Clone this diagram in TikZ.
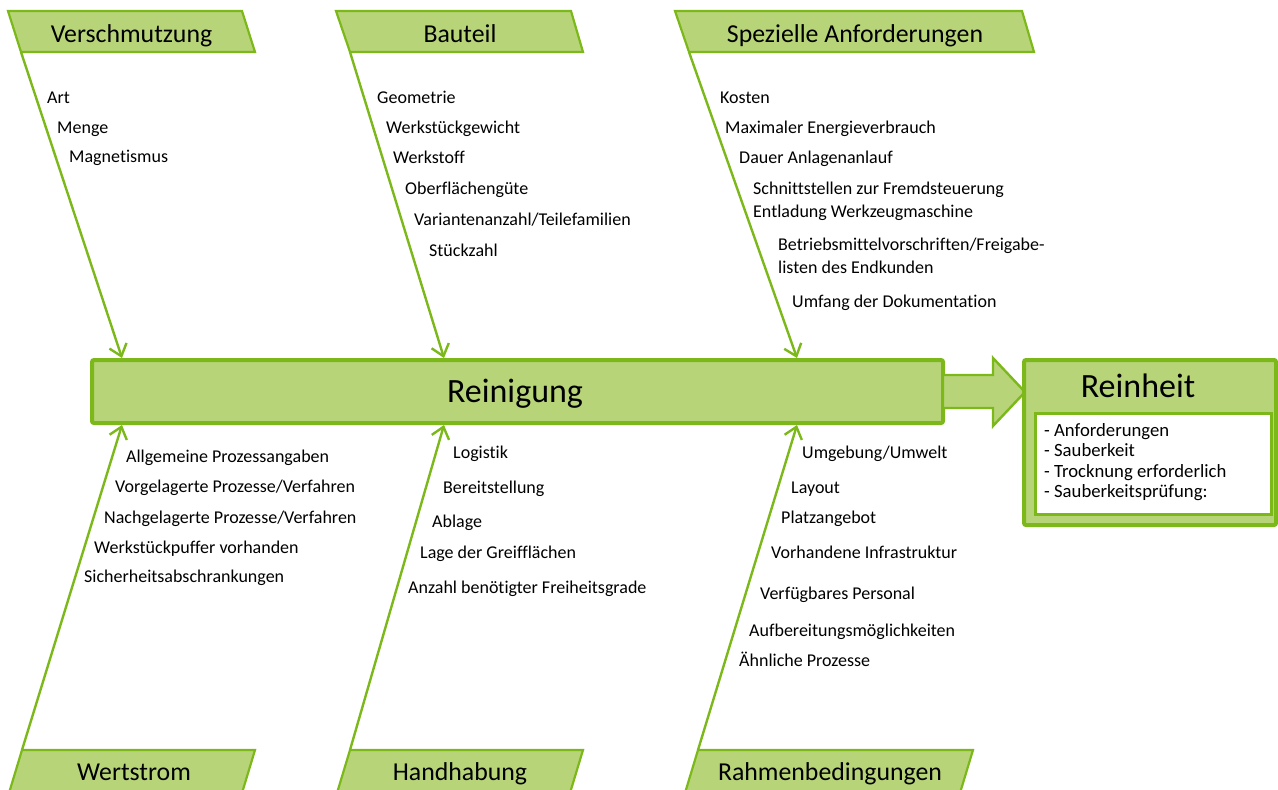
\documentclass[tikz,border=0pt]{standalone}
\usepackage{fontspec}
\setmainfont[Ligatures={NoCommon}]{Carlito}
\usetikzlibrary{arrows.meta}
\definecolor{gfill}{RGB}{183,213,120}
\definecolor{gline}{RGB}{124,184,26}
\tikzset{
  hdr/.style={draw=gline,fill=gfill,line width=2.2pt,line join=miter},
  hdrtxt/.style={anchor=base,font=\fontsize{25.8}{30}\selectfont,inner sep=0pt},
  item/.style={anchor=base west,font=\fontsize{18}{21}\selectfont,inner sep=0pt},
  bone/.style={draw=gline,line width=2.4pt,-{Straight Barb[length=11pt,width=18pt,line width=2.4pt]}},
  mainbox/.style={draw=gline,fill=gfill,line width=4pt,rounded corners=2pt},
  big/.style={anchor=base,font=\fontsize{34}{38}\selectfont,inner sep=0pt},
  listtxt/.style={anchor=base west,font=\fontsize{18.7}{20}\selectfont,inner sep=0pt}
}
\begin{document}
\begin{tikzpicture}[x=1pt,y=-1pt]
\useasboundingbox (0,0) rectangle (1278,790);
\clip (0,0) rectangle (1278,790);
% main box
\draw[mainbox] (92,360) rectangle (943,423);
\node[big] (rein) at (515,402) {Reinigung};
% block arrow
\draw[draw=gline,fill=gfill,line width=2.4pt,line join=miter]
  (943,375) -- (993,375) -- (993,358) -- (1025,392) -- (993,426) -- (993,408) -- (943,408) -- cycle;
% Reinheit box
\draw[mainbox] (1024,360) rectangle (1276,525);
\node[big] (reinheit) at (1138,397) {Reinheit};
\draw[draw=gline,fill=white,line width=3pt] (1035,413) rectangle (1271,514);
\node[listtxt] (l1) at (1044,436) {- Anforderungen};
\node[listtxt] (l2) at (1044,456) {- Sauberkeit};
\node[listtxt] (l3) at (1044,477) {- Trocknung erforderlich};
\node[listtxt] (l4) at (1044,497) {- Sauberkeitsprüfung:};
% top headers
\draw[hdr] (8,11) -- (242,11) -- (255,52) -- (21,52) -- cycle;
\node[hdrtxt] (h1) at (131.5,42) {Verschmutzung};
\draw[hdr] (336,11) -- (571,11) -- (583,52) -- (350,52) -- cycle;
\node[hdrtxt] (h2) at (460,42) {Bauteil};
\draw[hdr] (675,11) -- (1022,11) -- (1034,52) -- (689,52) -- cycle;
\node[hdrtxt] (h3) at (855,42) {Spezielle Anforderungen};
% bottom headers
\draw[hdr] (22,750) -- (255,750) -- (242,793) -- (9,793) -- cycle;
\node[hdrtxt] (h4) at (134,780) {Wertstrom};
\draw[hdr] (350,750) -- (583,750) -- (570,793) -- (337,793) -- cycle;
\node[hdrtxt] (h5) at (460,780) {Handhabung};
\draw[hdr] (698,750) -- (973,750) -- (960,793) -- (685,793) -- cycle;
\node[hdrtxt] (h6) at (830,780) {Rahmenbedingungen};
% bone coordinates
\coordinate (s1) at (21,52);  \coordinate (e1) at (122,358);
\coordinate (s2) at (350,52); \coordinate (e2) at (444,358);
\coordinate (s3) at (689,52); \coordinate (e3) at (797,358);
\coordinate (s4) at (22,750); \coordinate (e4) at (122,425);
\coordinate (s5) at (350,750);\coordinate (e5) at (444,425);
\coordinate (s6) at (698,750);\coordinate (e6) at (797,425);
\draw[bone] (s1) -- (e1);
\draw[bone] (s2) -- (e2);
\draw[bone] (s3) -- (e3);
\draw[bone] (s4) -- (e4);
\draw[bone] (s5) -- (e5);
\draw[bone] (s6) -- (e6);
% items Verschmutzung
\node[item] (a1) at (47,103) {Art};
\node[item] (a2) at (57,133) {Menge};
\node[item] (a3) at (69,162) {Magnetismus};
% items Bauteil
\node[item] (b1) at (377,103) {Geometrie};
\node[item] (b2) at (386,133) {Werkstückgewicht};
\node[item] (b3) at (393,163) {Werkstoff};
\node[item] (b4) at (405,194) {Oberflächengüte};
\node[item] (b5) at (414,225) {Variantenanzahl/Teilefamilien};
\node[item] (b6) at (429,256) {Stückzahl};
% items Spezielle Anforderungen
\node[item] (c1) at (720,103) {Kosten};
\node[item] (c2) at (725,133) {Maximaler Energieverbrauch};
\node[item] (c3) at (739,163) {Dauer Anlagenanlauf};
\node[item] (c4) at (753,194) {Schnittstellen zur Fremdsteuerung};
\node[item] (c5) at (753,217) {Entladung Werkzeugmaschine};
\node[item] (c6) at (778,250) {Betriebsmittelvorschriften/Freigabe-};
\node[item] (c7) at (778,273) {listen des Endkunden};
\node[item] (c8) at (792,307) {Umfang der Dokumentation};
% items Wertstrom
\node[item] (d1) at (126,462) {Allgemeine Prozessangaben};
\node[item] (d2) at (115,492) {Vorgelagerte Prozesse/Verfahren};
\node[item] (d3) at (104,523) {Nachgelagerte Prozesse/Verfahren};
\node[item] (d4) at (94,553) {Werkstückpuffer vorhanden};
\node[item] (d5) at (84,582) {Sicherheitsabschrankungen};
% items Handhabung
\node[item] (f1) at (453,458) {Logistik};
\node[item] (f2) at (443,493) {Bereitstellung};
\node[item] (f3) at (432,527) {Ablage};
\node[item] (f4) at (420,558) {Lage der Greifflächen};
\node[item] (f5) at (408,593) {Anzahl benötigter Freiheitsgrade};
% items Rahmenbedingungen
\node[item] (g1) at (802,458) {Umgebung/Umwelt};
\node[item] (g2) at (791,493) {Layout};
\node[item] (g3) at (781,523) {Platzangebot};
\node[item] (g4) at (771,558) {Vorhandene Infrastruktur};
\node[item] (g5) at (760,599) {Verfügbares Personal};
\node[item] (g6) at (749,636) {Aufbereitungsmöglichkeiten};
\node[item] (g7) at (739,666) {Ähnliche Prozesse};
\end{tikzpicture}
\end{document}
